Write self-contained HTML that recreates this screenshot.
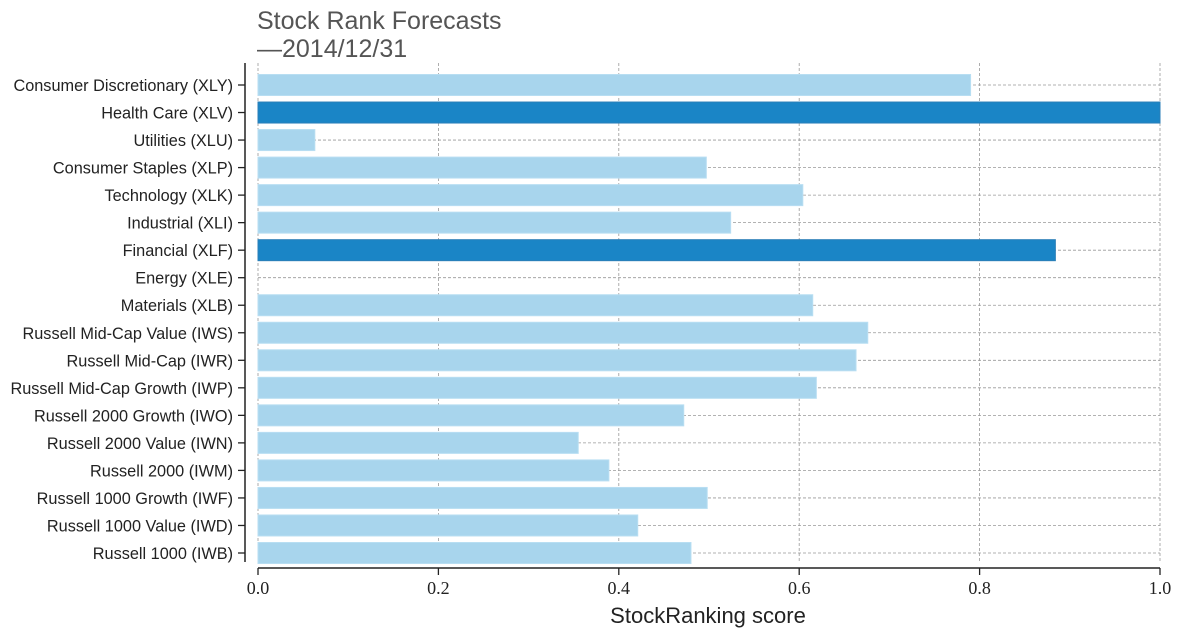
<!DOCTYPE html>
<html><head><meta charset="utf-8"><style>
body{margin:0;background:#fff;}
svg text{font-family:"Liberation Sans",sans-serif;}
svg text.serif{font-family:"Liberation Serif",serif;}
</style></head><body>
<svg id="c" width="1183" height="637" xmlns="http://www.w3.org/2000/svg">
<text x="257" y="29" font-size="25" fill="#555">Stock Rank Forecasts</text>
<text x="257" y="57" font-size="25" fill="#555">—2014/12/31</text>
<text x="708" y="623" font-size="22" fill="#222" text-anchor="middle">StockRanking score</text>
</svg>
<script>
const categories=["Consumer Discretionary (XLY)","Health Care (XLV)","Utilities (XLU)","Consumer Staples (XLP)","Technology (XLK)","Industrial (XLI)","Financial (XLF)","Energy (XLE)","Materials (XLB)","Russell Mid-Cap Value (IWS)","Russell Mid-Cap (IWR)","Russell Mid-Cap Growth (IWP)","Russell 2000 Growth (IWO)","Russell 2000 Value (IWN)","Russell 2000 (IWM)","Russell 1000 Growth (IWF)","Russell 1000 Value (IWD)","Russell 1000 (IWB)"];
const scores=[0.79,1.0,0.063,0.497,0.604,0.524,0.884,0,0.615,0.676,0.663,0.619,0.472,0.355,0.389,0.498,0.421,0.48];
const highlighted=[false,true,false,false,false,false,true,false,false,false,false,false,false,false,false,false,false,false];
const xTicks=[0,0.2,0.4,0.6,0.8,1.0];
const xTickLabels=["0.0","0.2","0.4","0.6","0.8","1.0"];
const svg=document.getElementById('c');const NS="http://www.w3.org/2000/svg";
const x0=258,x1=1160,yTop=85,step=(553-85)/17;
const xs=v=>x0+v*(x1-x0);const ys=i=>yTop+i*step;
function mk(t,a){const e=document.createElementNS(NS,t);for(const k in a)e.setAttribute(k,a[k]);svg.appendChild(e);return e;}
xTicks.forEach((t,i)=>{
 const g=mk('line',{x1:xs(t),x2:xs(t),y1:63,y2:562,stroke:'#999','stroke-dasharray':'3,2','stroke-width':0.8});
 
 
 const tk=mk('line',{x1:xs(t),x2:xs(t),y1:568,y2:575,stroke:'#222','stroke-width':1.3});
 
 
 const tl=mk('text',{x:xs(t),y:594,'font-size':18,'text-anchor':'middle',fill:'#222','class':'serif'});
 tl.textContent=xTickLabels[i];
 
 
});
categories.forEach((c,i)=>{
 const y=ys(i);
 const g=mk('line',{x1:x0,x2:x1,y1:y,y2:y,stroke:'#999','stroke-dasharray':'3,2','stroke-width':0.8});
 
 
 if(scores[i]>0){
 const b=mk('rect',{x:x0,y:y-10.5,width:xs(scores[i])-x0,height:21,fill:highlighted[i]?'#1a85c6':'#a8d5ed',stroke:highlighted[i]?'#2b7fb8':'#b8def2','stroke-width':1});
 
 
 }
 const tk=mk('line',{x1:238,x2:245,y1:y,y2:y,stroke:'#222','stroke-width':1.3});
 
 
 const tl=mk('text',{x:233,y:y+6,'font-size':16.3,'text-anchor':'end',fill:'#222'});
 tl.textContent=c;
 
 
});
const ya=mk('line',{x1:245,x2:245,y1:63,y2:562,stroke:'#222','stroke-width':1.5});


const xa=mk('line',{x1:x0,x2:x1,y1:568,y2:568,stroke:'#222','stroke-width':1.5});


</script>
</body></html>
